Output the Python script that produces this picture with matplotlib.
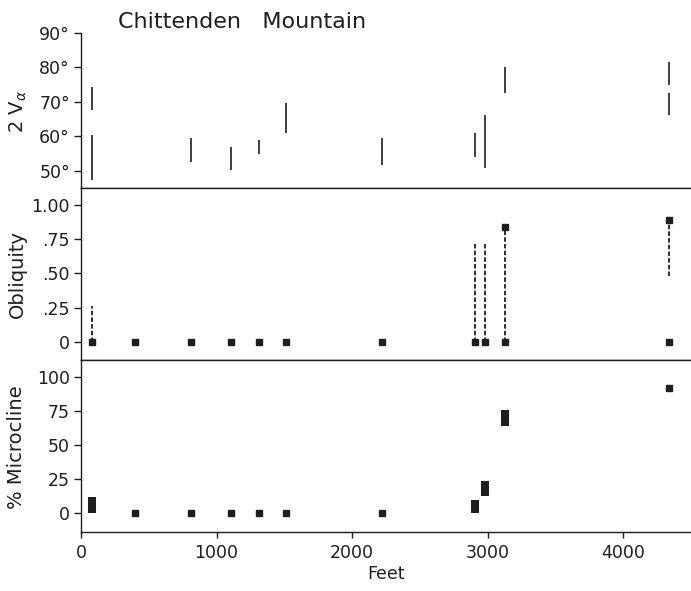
import matplotlib
matplotlib.use("Agg")
import matplotlib.pyplot as plt

# sample sites (feet along the traverse)
sites = [80, 400, 815, 1110, 1310, 1510, 2220, 2905, 2980, 3130, 4340]

# 2V ranges (degrees), one segment per entry
v2_feet = [80, 80, 815, 1110, 1310, 1510, 2220, 2905, 2980, 3130, 4340, 4340]
v2_low = [67.7, 47.4, 52.5, 50.3, 54.9, 60.9, 51.7, 54.1, 50.8, 72.5, 74.9, 66.2]
v2_high = [74.3, 60.4, 59.5, 57.0, 59.0, 69.6, 59.5, 60.9, 66.2, 80.2, 81.7, 72.5]

# obliquity
obl_low = [0, 0, 0, 0, 0, 0, 0, 0, 0, 0, 0]
obl_high_feet = [3130, 4340]
obl_high = [0.84, 0.89]
obl_range_feet = [80, 2905, 2980, 3130, 4340]
obl_range_lo = [0, 0, 0, 0, 0.48]
obl_range_hi = [0.26, 0.72, 0.71, 0.84, 0.89]

# % microcline (low, high)
mic_low = [0, 0, 0, 0, 0, 0, 0, 0, 13, 64, 92]
mic_high = [12, 0, 0, 0, 0, 0, 0, 10, 24, 76, 92]

ink = "#1e1e1e"
plt.rcParams["font.family"] = "DejaVu Sans"

fig = plt.figure(figsize=(6.91, 5.91), dpi=100)
W, H = 691.0, 591.0
left = 81 / W
width = 1.0 - left
ax1 = fig.add_axes([left, (H - 188) / H, width, 155 / H])
ax2 = fig.add_axes([left, (H - 360) / H, width, 172 / H])
ax3 = fig.add_axes([left, (H - 532) / H, width, 172 / H])

for ax in (ax1, ax2, ax3):
    ax.set_xlim(0, 4500)
    ax.spines["right"].set_visible(False)
    for s in ax.spines.values():
        s.set_color(ink)
        s.set_linewidth(1.0)
    ax.tick_params(axis="y", direction="out", length=5, width=1, colors=ink,
                   labelsize=12.5, pad=3)

# top panel: 2V
ax1.spines["top"].set_visible(False)
ax1.set_ylim(45, 90)
ax1.vlines(v2_feet, v2_low, v2_high, color=ink, lw=1.2)
ax1.set_yticks([50, 60, 70, 80, 90])
ax1.set_yticklabels(["50°", "60°", "70°", "80°", "90°"])
ax1.set_xticks([])

# middle panel: obliquity
ax2.set_ylim(-0.129, 1.12)
ax2.vlines(obl_range_feet, obl_range_lo, obl_range_hi, color=ink, lw=1.3,
           linestyles=(0, (2.5, 1.2)))
ax2.plot(sites, obl_low, "s", color=ink, ms=5)
ax2.plot(obl_high_feet, obl_high, "s", color=ink, ms=5)
ax2.set_yticks([0, 0.25, 0.5, 0.75, 1.0])
ax2.set_yticklabels(["0", ".25", ".50", ".75", "1.00"])
ax2.set_xticks([])

# bottom panel: % microcline
ax3.set_ylim(-13.7, 112.3)
pts = [(f, lo) for f, lo, hi in zip(sites, mic_low, mic_high) if lo == hi]
bars = [(f, lo, hi) for f, lo, hi in zip(sites, mic_low, mic_high) if lo != hi]
ax3.plot([p[0] for p in pts], [p[1] for p in pts], "s", color=ink, ms=5)
ax3.vlines([b[0] for b in bars], [b[1] for b in bars], [b[2] for b in bars],
           color=ink, lw=5.8)
ax3.set_yticks([0, 25, 50, 75, 100])
ax3.set_xticks([0, 1000, 2000, 3000, 4000])
ax3.tick_params(axis="x", direction="out", length=4, width=1, colors=ink,
                labelsize=12.5, pad=5)
ax3.set_xlabel("Feet", fontsize=12.5, color=ink, labelpad=2)

fig.text(18 / W, 1 - 112 / H, "2 V$_\\alpha$", rotation=90, ha="center",
         va="center", fontsize=14, color=ink)
fig.text(17 / W, 1 - 274 / H, "Obliquity", rotation=90, ha="center",
         va="center", fontsize=14, color=ink)
fig.text(17 / W, 1 - 447 / H, "% Microcline", rotation=90, ha="center",
         va="center", fontsize=14, color=ink)
fig.text(118 / W, 1 - 22 / H, "Chittenden   Mountain", ha="left",
         va="center", fontsize=16, color=ink)

fig.savefig("out.png", dpi=100)
